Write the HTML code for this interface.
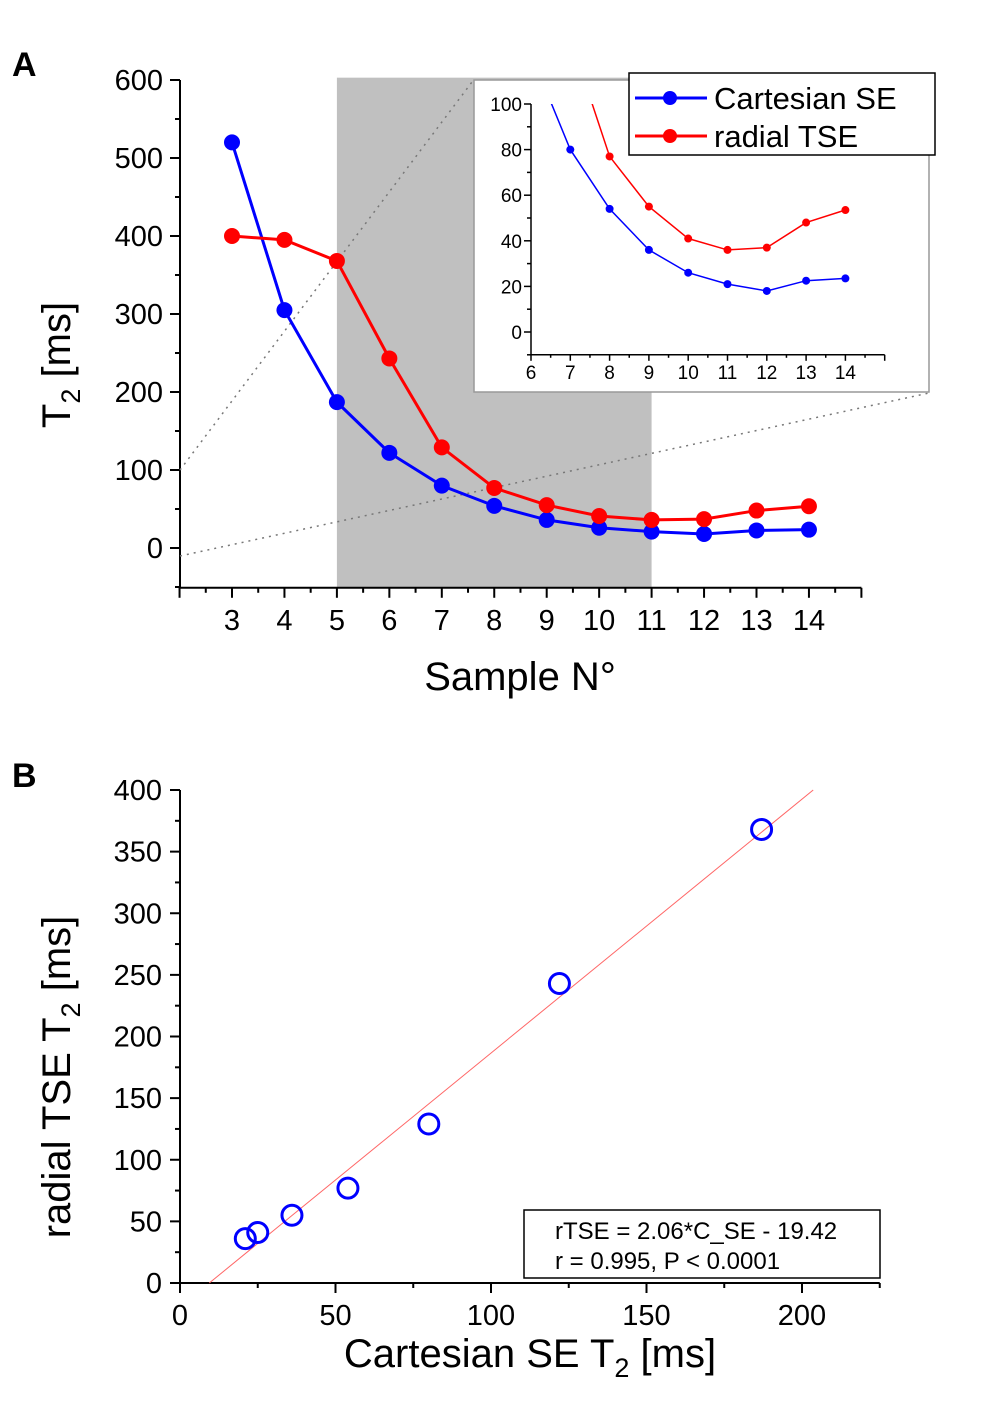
<!DOCTYPE html>
<html><head><meta charset="utf-8"><style>
body{margin:0;background:#fff;}
svg{display:block;font-family:"Liberation Sans",sans-serif;}
</style></head><body>
<svg id="fig" width="1000" height="1406" viewBox="0 0 1000 1406">
<g id="A"></g>
<g id="B"></g>
</svg>
<script>
const samples=[3,4,5,6,7,8,9,10,11,12,13,14];
const cartesianSE=[520,305,187,122,80,54,36,26,21,18,22.5,23.5];
const radialTSE=[400,395,368,243,129,77,55,41,36,37,48,53.5];
const xTicksA=[3,4,5,6,7,8,9,10,11,12,13,14];
const yTicksA=[0,100,200,300,400,500,600];
const insetXTicks=[6,7,8,9,10,11,12,13,14];
const insetYTicks=[0,20,40,60,80,100];
const scatterX=[21,25,36,54,80,122,187];
const scatterY=[36,41,55,77,129,243,368];
const xTicksB=[0,50,100,150,200];
const yTicksB=[0,50,100,150,200,250,300,350,400];
const fitSlope=2.06, fitIntercept=-19.42;

const NS="http://www.w3.org/2000/svg";
function el(tag,attrs,parent,text){const e=document.createElementNS(NS,tag);for(const k in attrs)e.setAttribute(k,attrs[k]);if(text!==undefined)e.textContent=text;parent.appendChild(e);return e;}
const A=document.getElementById('A'),B=document.getElementById('B');

// Panel A scales
const ax=v=>232+(v-3)*52.45, ay=v=>548-v*0.78;
let t=el('text',{x:12,y:76,'font-size':34,'font-weight':'bold'},A,'A');

let r=el('rect',{x:ax(5),y:ay(603),width:ax(11)-ax(5),height:ay(-51)-ay(603),fill:'#c0c0c0'},A);

el('line',{x1:180,y1:ay(600),x2:180,y2:ay(-51),stroke:'#000','stroke-width':2},A);
el('line',{x1:180,y1:ay(-51),x2:ax(15),y2:ay(-51),stroke:'#000','stroke-width':2},A);
for(let v=-50;v<=600;v+=50){const major=v%100===0;el('line',{x1:180,y1:ay(v),x2:major?170:175,y2:ay(v),stroke:'#000','stroke-width':2},A);}
yTicksA.forEach(v=>{const e=el('text',{x:163,y:ay(v)+10,'font-size':29,'text-anchor':'end'},A,String(v));});
for(let v=2;v<=15;v+=0.5){const major=v%1===0;el('line',{x1:ax(v),y1:ay(-51),x2:ax(v),y2:ay(-51)+(major?10:5),stroke:'#000','stroke-width':2},A);}
xTicksA.forEach(v=>{const e=el('text',{x:ax(v),y:630,'font-size':29,'text-anchor':'middle'},A,String(v));});
t=el('text',{x:520,y:690,'font-size':40,'text-anchor':'middle'},A,'Sample N°');
t=el('text',{transform:'translate(70,365) rotate(-90)','font-size':40,'text-anchor':'middle'},A);

t.innerHTML='T<tspan dy="10" font-size="27">2</tspan><tspan dy="-10"> [ms]</tspan>';
el('line',{x1:180,y1:470,x2:472,y2:82,stroke:'#777','stroke-width':1.5,'stroke-dasharray':'2 5'},A);
el('line',{x1:180,y1:556,x2:929,y2:393,stroke:'#777','stroke-width':1.5,'stroke-dasharray':'2 5'},A);
function series(xs,ys,color,fx,fy,rad,w,name,g,clip){
  const p=xs.map((x,i)=>fx(x)+','+fy(ys[i])).join(' ');
  const pl=el('polyline',{points:p,fill:'none',stroke:color,'stroke-width':w},g);
  if(clip)pl.setAttribute('clip-path',clip);
  
  xs.forEach((x,i)=>{if(clip&&ys[i]>100)return;const c=el('circle',{cx:fx(x),cy:fy(ys[i]),r:rad,fill:color},g);});
}
series(samples,cartesianSE,'#0000ff',ax,ay,8,3,'cartesian-se',A);
series(samples,radialTSE,'#ff0000',ax,ay,8,3,'radial-tse',A);
const ins=el('g',{},A);
el('rect',{x:474,y:80,width:455,height:312,fill:'#fff',stroke:'#999','stroke-width':1.5},ins);
const ix=v=>531+(v-6)*39.3, iy=v=>332-v*2.28;
el('clipPath',{id:'ic'},ins);el('rect',{x:531,y:iy(100),width:360,height:iy(-10)-iy(100)},document.getElementById('ic'));
el('line',{x1:531,y1:iy(100),x2:531,y2:iy(-10),stroke:'#000','stroke-width':1.5},ins);
el('line',{x1:531,y1:iy(-10),x2:ix(15),y2:iy(-10),stroke:'#000','stroke-width':1.5},ins);
for(let v=-10;v<=100;v+=10)el('line',{x1:531,y1:iy(v),x2:v%20===0?524:527,y2:iy(v),stroke:'#000','stroke-width':1.5},ins);
insetYTicks.forEach(v=>{const e=el('text',{x:522,y:iy(v)+7,'font-size':19,'text-anchor':'end'},ins,String(v));});
for(let v=6;v<=15;v+=0.5)el('line',{x1:ix(v),y1:iy(-10),x2:ix(v),y2:iy(-10)+(v%1===0?6:3),stroke:'#000','stroke-width':1.5},ins);
insetXTicks.forEach(v=>{const e=el('text',{x:ix(v),y:379,'font-size':19,'text-anchor':'middle'},ins,String(v));});
series(samples,cartesianSE,'#0000ff',ix,iy,4,1.5,'inset-cartesian-se',ins,'url(#ic)');
series(samples,radialTSE,'#ff0000',ix,iy,4,1.5,'inset-radial-tse',ins,'url(#ic)');
const lg=el('g',{},A);
el('rect',{x:629,y:73,width:306,height:82,fill:'#fff',stroke:'#000','stroke-width':1.5},lg);
[['#0000ff','Cartesian SE',98],['#ff0000','radial TSE',136]].forEach(([c,l,y])=>{
  const g=el('g',{},lg);
  el('line',{x1:635,y1:y,x2:707,y2:y,stroke:c,'stroke-width':3},g);
  el('circle',{cx:670,cy:y,r:7,fill:c},g);
  el('text',{x:714,y:y+11,'font-size':31},g,l);
});

// Panel B
const bx=v=>180+v*3.11, by=v=>1283-v*1.2325;
t=el('text',{x:12,y:787,'font-size':34,'font-weight':'bold'},B,'B');
el('line',{x1:180,y1:by(400),x2:180,y2:by(0),stroke:'#000','stroke-width':2},B);
el('line',{x1:180,y1:by(0),x2:bx(225),y2:by(0),stroke:'#000','stroke-width':2},B);
for(let v=0;v<=400;v+=25)el('line',{x1:180,y1:by(v),x2:v%50===0?170:175,y2:by(v),stroke:'#000','stroke-width':2},B);
yTicksB.forEach(v=>{const e=el('text',{x:162,y:by(v)+10,'font-size':29,'text-anchor':'end'},B,String(v));});
for(let v=0;v<=225;v+=25)el('line',{x1:bx(v),y1:by(0),x2:bx(v),y2:by(0)+(v%50===0?10:5),stroke:'#000','stroke-width':2},B);
xTicksB.forEach(v=>{const e=el('text',{x:bx(v),y:1325,'font-size':29,'text-anchor':'middle'},B,String(v));});
t=el('text',{x:530,y:1367,'font-size':40,'text-anchor':'middle'},B);
t.innerHTML='Cartesian SE T<tspan dy="10" font-size="27">2</tspan><tspan dy="-10"> [ms]</tspan>';
t=el('text',{transform:'translate(70,1077) rotate(-90)','font-size':40,'text-anchor':'middle'},B);
t.innerHTML='radial TSE T<tspan dy="10" font-size="27">2</tspan><tspan dy="-10"> [ms]</tspan>';
const x0=-fitIntercept/fitSlope, x1=(400-fitIntercept)/fitSlope;
const fl=el('line',{x1:bx(x0),y1:by(0),x2:bx(x1),y2:by(400),stroke:'#ff6666','stroke-width':1},B);
scatterX.forEach((x,i)=>{const c=el('ellipse',{cx:bx(x),cy:by(scatterY[i]),rx:10,ry:10,fill:'none',stroke:'#0000ff','stroke-width':3},B);});
const fb=el('g',{},B);
el('rect',{x:524,y:1210,width:356,height:68,fill:'#fff',stroke:'#000','stroke-width':1.5},fb);
el('text',{x:555,y:1239,'font-size':24},fb,'rTSE = 2.06*C_SE - 19.42');
el('text',{x:555,y:1269,'font-size':24},fb,'r = 0.995, P < 0.0001');
</script>
</body></html>
